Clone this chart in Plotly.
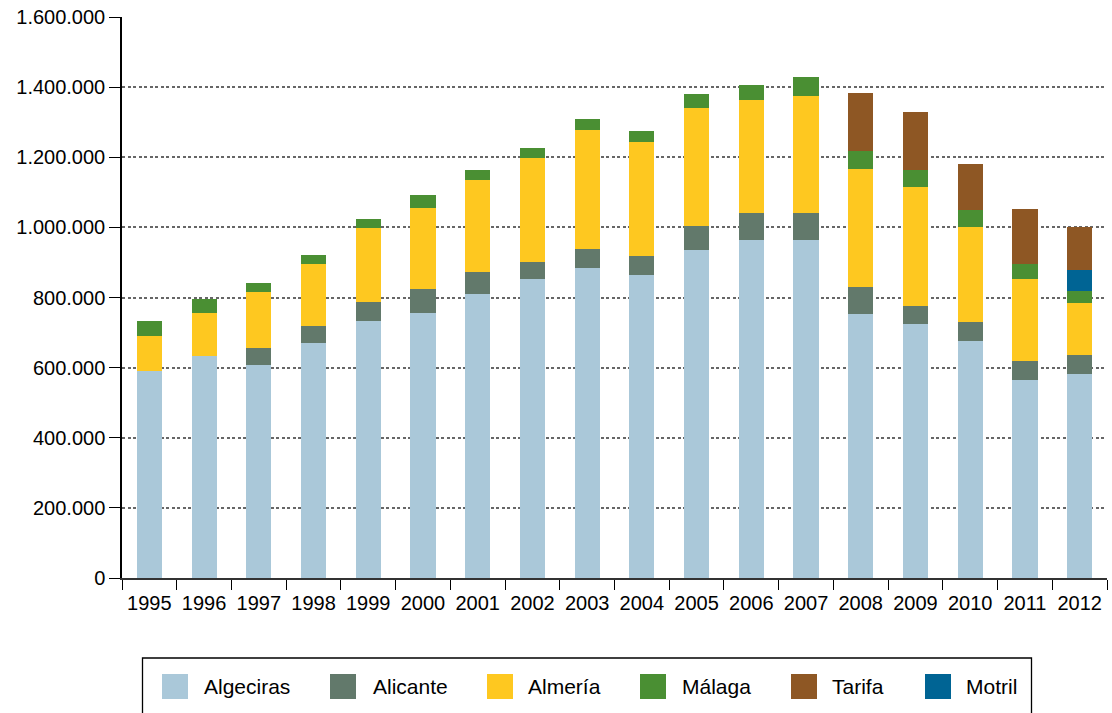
import plotly.graph_objects as go

# Passenger traffic by port, 1995-2012
years = [str(y) for y in range(1995, 2013)]

algeciras = [589000, 634000, 607000, 670000, 733000, 756000, 810000, 853000, 884000,
             864000, 935000, 964000, 964000, 753000, 724000, 676000, 565000, 582000]
alicante = [0, 0, 49000, 49000, 54000, 68000, 63000, 48000, 54000,
            54000, 69000, 77000, 77000, 77000, 52000, 54000, 54000, 54000]
almeria = [101000, 122000, 160000, 177000, 211000, 231000, 262000, 297000, 340000,
           325000, 336000, 322000, 334000, 336000, 339000, 271000, 234000, 148000]
malaga = [43000, 40000, 25000, 25000, 26000, 37000, 29000, 28000, 31000,
          32000, 40000, 43000, 54000, 52000, 49000, 49000, 43000, 35000]
tarifa = [0, 0, 0, 0, 0, 0, 0, 0, 0,
          0, 0, 0, 0, 165000, 165000, 131000, 156000, 123000]
motril = [0, 0, 0, 0, 0, 0, 0, 0, 0,
          0, 0, 0, 0, 0, 0, 0, 0, 59000]

series = [
    ("Algeciras", algeciras, "#aac8d9"),
    ("Alicante", alicante, "#62796b"),
    ("Almería", almeria, "#fec820"),
    ("Málaga", malaga, "#4a8f33"),
    ("Motril", motril, "#006494"),
    ("Tarifa", tarifa, "#8e5724"),
]
legend_order = ["Algeciras", "Alicante", "Almería", "Málaga", "Tarifa", "Motril"]
colors = {name: c for name, _, c in series}

W, H = 1112, 713
L, R, T, B = 122, 5, 17, 135
PW, PH = W - L - R, H - T - B

FONT = "Liberation Sans, Arial, Helvetica, sans-serif"

fig = go.Figure()
for name, vals, color in series:
    fig.add_trace(go.Bar(
        x=years, y=vals, name=name,
        marker=dict(color=color, line=dict(width=0)),
        showlegend=False,
    ))


def px_x(p):
    return (p - L) / PW


def px_y(p):
    return (H - B - p) / PH


# Legend drawn as a framed row of swatches below the chart
shapes = [dict(type="rect", xref="paper", yref="paper",
               x0=px_x(142.5), x1=px_x(1031.5), y0=px_y(658), y1=px_y(730),
               line=dict(color="black", width=1.3), fillcolor="white", layer="above")]
annotations = []
sw_x = [162, 330, 487, 640, 791, 925]
tx_x = [202, 371, 526, 680, 830, 964]
for name, sx, tx in zip(legend_order, sw_x, tx_x):
    shapes.append(dict(type="rect", xref="paper", yref="paper",
                       x0=px_x(sx), x1=px_x(sx + 26), y0=px_y(699), y1=px_y(674),
                       line=dict(width=0), fillcolor=colors[name], layer="above"))
    annotations.append(dict(text=name, xref="paper", yref="paper",
                            x=px_x(tx), y=px_y(686.5), xanchor="left", yanchor="middle",
                            showarrow=False, font=dict(family=FONT, size=21, color="black")))

fig.update_layout(
    width=W, height=H,
    margin=dict(l=L, r=R, t=T, b=B, pad=0),
    barmode="stack",
    bargap=0.54,
    separators=",.",
    plot_bgcolor="white",
    paper_bgcolor="white",
    font=dict(family=FONT, size=20, color="black"),
    shapes=shapes,
    annotations=annotations,
    showlegend=False,
)
fig.update_yaxes(
    range=[0, 1600000],
    tickvals=[0, 200000, 400000, 600000, 800000, 1000000, 1200000, 1400000, 1600000],
    tickformat=",d",
    showgrid=True, gridcolor="#666666", griddash="3px,2.5px", gridwidth=1.7,
    zeroline=False,
    showline=True, linecolor="black", linewidth=1.5,
    ticks="outside", ticklen=11, tickcolor="black", tickwidth=1.3,
    tickfont=dict(family=FONT, size=20, color="black"),
)
fig.update_xaxes(
    type="category",
    tickson="boundaries",
    showgrid=False,
    showline=True, linecolor="#333333", linewidth=2,
    ticks="outside", ticklen=10, tickcolor="black", tickwidth=1.3,
    tickfont=dict(family=FONT, size=20, color="black"),
    ticklabelstandoff=6,
)

fig.write_html("out.html")
